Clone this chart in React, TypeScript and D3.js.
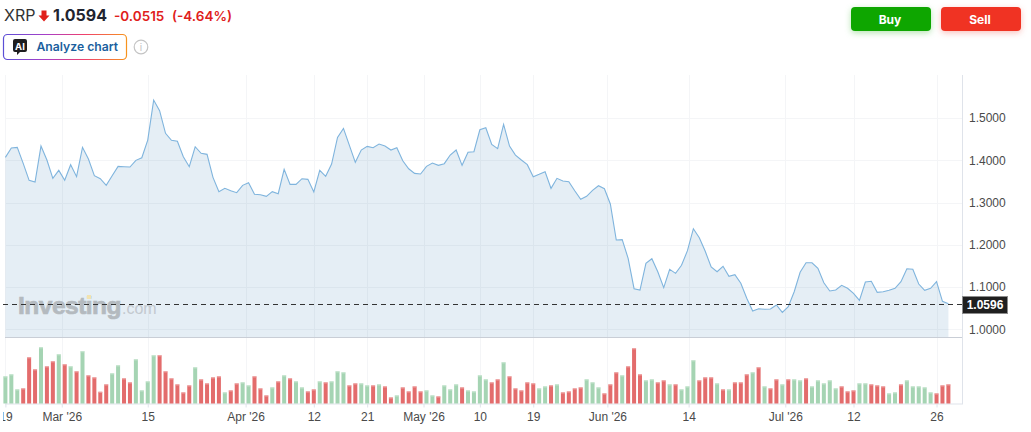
import * as d3 from 'd3';
import { useEffect, useRef } from 'react';

// daily close
const closes = [
  1.4071, 1.4291, 1.4307, 1.3929, 1.3527, 1.3487, 1.4338, 1.4007, 1.3574, 1.3763,
  1.3527, 1.3897, 1.3613, 1.4307, 1.4031, 1.3636, 1.3565, 1.3408, 1.3636, 1.3858,
  1.3849, 1.3841, 1.4, 1.4062, 1.448, 1.5427, 1.5175, 1.4639, 1.4473, 1.445,
  1.4086, 1.3849, 1.4322, 1.4166, 1.4142, 1.3597, 1.3258, 1.3337, 1.3281, 1.3234,
  1.3408, 1.3471, 1.3195, 1.3187, 1.3148, 1.3258, 1.321, 1.3787, 1.3432, 1.3432,
  1.3565, 1.355, 1.325, 1.3763, 1.3621, 1.3912, 1.4544, 1.4757, 1.4355, 1.3953,
  1.4244, 1.4331, 1.4299, 1.4386, 1.4338, 1.4244, 1.4299, 1.3991, 1.3801, 1.3692,
  1.3676, 1.3858, 1.3936, 1.3882, 1.3921, 1.4125, 1.4244, 1.3882, 1.419, 1.4205,
  1.4724, 1.4772, 1.4378, 1.4276, 1.4852, 1.4338, 1.4125, 1.4007, 1.3897, 1.3613,
  1.3668, 1.3731, 1.3337, 1.3574, 1.351, 1.3495, 1.3281, 1.3077, 1.3148, 1.329,
  1.3399, 1.3328, 1.2966, 1.2114, 1.2122, 1.168, 1.0961, 1.093, 1.1562, 1.1671,
  1.1364, 1.0985, 1.142, 1.1325, 1.1515, 1.1861, 1.2381, 1.2168, 1.1846, 1.1475,
  1.1364, 1.1491, 1.1254, 1.1292, 1.1089, 1.0734, 1.0433, 1.0488, 1.0473, 1.0481,
  1.0575, 1.0402, 1.0535, 1.089, 1.1349, 1.1576, 1.1576, 1.1444, 1.1103, 1.0907,
  1.093, 1.1041, 1.097, 1.0852, 1.0686, 1.112, 1.1136, 1.0876, 1.089, 1.0923,
  1.097, 1.1127, 1.1434, 1.142, 1.1072, 1.0923, 1.097, 1.1127, 1.0663, 1.0606,
];

// volume in arbitrary units
const volumes = [
  81, 87, 42, 45, 138, 102, 168, 111, 126, 147, 117, 111, 96, 156, 84, 78, 35, 57, 90, 114,
  75, 63, 132, 39, 66, 144, 144, 96, 75, 57, 33, 54, 108, 72, 60, 78, 81, 33, 39, 60,
  63, 54, 81, 45, 24, 48, 66, 84, 75, 66, 48, 36, 42, 66, 63, 66, 96, 93, 54, 60,
  60, 54, 54, 57, 51, 18, 24, 48, 36, 51, 36, 39, 24, 21, 54, 42, 57, 48, 39, 36,
  84, 72, 63, 72, 123, 81, 45, 39, 63, 60, 45, 51, 54, 57, 33, 36, 45, 48, 72, 63,
  48, 30, 57, 93, 84, 111, 165, 87, 69, 72, 63, 69, 57, 57, 42, 51, 129, 69, 78, 78,
  60, 42, 42, 63, 63, 87, 93, 108, 51, 45, 72, 57, 72, 72, 69, 75, 51, 69, 60, 69,
  45, 51, 36, 39, 60, 60, 57, 54, 51, 30, 33, 57, 69, 51, 51, 48, 33, 30, 54, 57,
];

// G = up bar, R = down bar
const volumeDirs =
  'GGGRRRGRRGRGRGRRRRGGRRGGGGRRRRRRGRRRRGRRGGRRRGRGRGGRRGRGGGRRGGRGRRGRRRRGGRGGGRGG' +
  'GGRRGRRRRRGGRGRRRRGGGRRRGRRRGGRRGRGGGRRRGRGRRRGRGRRGRGGRGGGGGRRRGGRRRGGRGGGGGRRRGGRR';

const priceTicks = [1.0, 1.1, 1.2, 1.3, 1.4, 1.5];
const dateTickIndex = [0, 9.5, 24, 40.5, 52, 61, 70.5, 80, 89, 101.5, 115.2, 131.5, 143, 157];
const dateTickLabels = ['19', "Mar '26", '15', "Apr '26", '12', '21', "May '26", '10', '19', "Jun '26", '14', "Jul '26", '12', '26'];

const lastPrice = 1.0596;

const App = () => {
  const svgRef = useRef<SVGSVGElement | null>(null);

  useEffect(() => {
    if (!svgRef.current) return;
    const svg = d3.select(svgRef.current);
    svg.selectAll('*').remove();

    const plotLeft = 5;
    const plotRight = 962;
    const paneBottom = 337;
    const volBottom = 403.5;
    const x = d3.scaleLinear().domain([0, closes.length - 1]).range([5.4, 948.4]);
    const y = d3.scaleLinear().domain([1, 1.5]).range([329.3, 118.1]);
    const yVol = d3.scaleLinear().domain([0, 168]).range([volBottom, 347.3]);

    const defs = svg.append('defs');
    const grad = defs.append('linearGradient').attr('id', 'aiBorder');
    [['0%', '#5b4fd6'], ['35%', '#a83fc8'], ['65%', '#ef3f6e'], ['100%', '#f7931e']].forEach(([o, c]) => {
      grad.append('stop').attr('offset', o).attr('stop-color', c);
    });
    defs.append('clipPath').attr('id', 'leftClip')
      .append('rect').attr('x', 3).attr('y', 0).attr('width', 1028).attr('height', 432);

    // grid
    const gridColor = '#f4f5f7';
    svg.append('g').selectAll('line').data(priceTicks).join('line')
      .attr('x1', plotLeft).attr('x2', plotRight)
      .attr('y1', d => Math.round(y(d)) + 0.5).attr('y2', d => Math.round(y(d)) + 0.5)
      .attr('stroke', gridColor);
    svg.append('g').selectAll('line').data(dateTickIndex).join('line')
      .attr('x1', d => Math.round(x(d)) + 0.5).attr('x2', d => Math.round(x(d)) + 0.5)
      .attr('y1', 75).attr('y2', volBottom)
      .attr('stroke', gridColor);

    // price area + line
    const area = d3.area<number>()
      .x((_, i) => x(i))
      .y0(paneBottom)
      .y1(d => y(d));
    svg.append('path').datum(closes).attr('d', area).attr('fill', 'rgba(20,100,165,0.11)');
    const line = d3.line<number>().x((_, i) => x(i)).y(d => y(d));
    svg.append('path').datum(closes).attr('d', line)
      .attr('fill', 'none').attr('stroke', '#7fb4dd').attr('stroke-width', 1.1);

    // watermark
    const mark = svg.append('g').style('font-family', '"Liberation Sans", Arial, sans-serif');
    mark.append('text').attr('x', 18).attr('y', 314)
      .style('font-size', '24.5px').style('font-weight', 700).style('letter-spacing', '-0.5px')
      .attr('fill', '#b4babf').attr('stroke', '#b4babf').attr('stroke-width', 0.7).text('Investing');
    mark.append('text').attr('x', 122).attr('y', 314)
      .style('font-size', '16px').attr('fill', '#c3c9cf').text('.com');
    mark.append('rect').attr('x', 87).attr('y', 295).attr('width', 4).attr('height', 4)
      .attr('fill', '#f2e3b0');

    // separators and right edge
    svg.append('line').attr('x1', plotLeft).attr('x2', plotRight)
      .attr('y1', paneBottom + 0.5).attr('y2', paneBottom + 0.5)
      .attr('stroke', '#c9ced6').attr('stroke-width', 1);
    svg.append('line').attr('x1', plotLeft).attr('x2', plotRight)
      .attr('y1', volBottom + 0.5).attr('y2', volBottom + 0.5)
      .attr('stroke', '#dfe3ea');
    svg.append('line').attr('x1', plotRight + 0.5).attr('x2', plotRight + 0.5)
      .attr('y1', 75).attr('y2', volBottom + 1)
      .attr('stroke', '#dfe3ea');

    // volume bars
    const barW = 4;
    const bars = svg.append('g');
    bars.selectAll('rect.vol').data(volumes).join('rect')
      .attr('class', 'vol')
      .attr('x', (_, i) => x(i) - barW / 2)
      .attr('y', d => yVol(d))
      .attr('width', barW)
      .attr('height', d => volBottom - yVol(d))
      .attr('fill', (_, i) => (volumeDirs[i] === 'G' ? '#a5d4b3' : '#e36c6c'));
    bars.selectAll('rect.top').data(volumes).join('rect')
      .attr('class', 'top')
      .attr('x', (_, i) => x(i) - barW / 2)
      .attr('y', d => yVol(d))
      .attr('width', barW)
      .attr('height', 1)
      .attr('fill', (_, i) => (volumeDirs[i] === 'G' ? '#c8e6d1' : '#efa9a9'));

    // last price line
    svg.append('line').attr('x1', 3).attr('x2', plotRight)
      .attr('y1', Math.round(y(lastPrice)) + 0.5).attr('y2', Math.round(y(lastPrice)) + 0.5)
      .attr('stroke', '#333').attr('stroke-dasharray', '5 4');

    // axes
    const axisFont = '"Liberation Sans", Arial, sans-serif';
    const yAxis = svg.append('g')
      .attr('transform', `translate(${plotRight},0)`)
      .call(d3.axisRight(y).tickValues(priceTicks).tickSize(0).tickPadding(7).tickFormat(d => d3.format('.4f')(d as number)));
    yAxis.select('.domain').remove();
    yAxis.selectAll('text').style('font-size', '12px').style('font-family', axisFont).attr('fill', '#4a4a4a');

    const tickLabel = new Map(dateTickIndex.map((d, i) => [d, dateTickLabels[i]]));
    const xAxis = svg.append('g')
      .attr('transform', `translate(0,${volBottom})`)
      .attr('clip-path', 'url(#leftClip)')
      .call(d3.axisBottom(x).tickValues(dateTickIndex).tickSize(4).tickPadding(5).tickFormat(d => tickLabel.get(d as number) || ''));
    xAxis.select('.domain').remove();
    xAxis.selectAll('line').attr('stroke', '#dfe3ea');
    xAxis.selectAll('text').style('font-size', '12px').style('font-family', axisFont).attr('fill', '#4a4a4a');

    // last price tag
    svg.append('rect').attr('x', 962.5).attr('y', 296.5).attr('width', 45).attr('height', 17)
      .attr('fill', '#1f1f1f').attr('stroke', '#8c8c8c');
    svg.append('text').attr('x', 985).attr('y', 309).attr('text-anchor', 'middle')
      .style('font-size', '12px').style('font-weight', 700).style('font-family', axisFont)
      .attr('fill', '#fff').text(d3.format('.4f')(lastPrice));

    // header
    const head = svg.append('g').style('font-family', 'Inter, sans-serif');
    head.append('text').attr('x', 4).attr('y', 21).style('font-size', '16px').attr('fill', '#333').text('XRP');
    head.append('path').attr('d', 'M41.5 10.5h5v5h3l-5.5 6-5.5-6h3z').attr('fill', '#e0201b');
    head.append('text').attr('x', 53).attr('y', 21).style('font-size', '16px').style('font-weight', 700).attr('fill', '#1f2430').text('1.0594');
    head.append('text').attr('x', 114).attr('y', 21).style('font-size', '13.5px').style('font-weight', 600).attr('fill', '#e0201b').text('-0.0515');
    head.append('text').attr('x', 172).attr('y', 21).style('font-size', '13.5px').style('font-weight', 600).attr('fill', '#e0201b').text('(-4.64%)');

    // analyze chart button
    head.append('rect').attr('x', 3.5).attr('y', 34.5).attr('width', 123).attr('height', 25).attr('rx', 4)
      .attr('fill', '#fff').attr('stroke', 'url(#aiBorder)').attr('stroke-width', 1.2);
    head.append('path').attr('d', 'M15 39h10a2 2 0 0 1 2 2v9a2 2 0 0 1-2 2h-5l-3 3v-3h-2a2 2 0 0 1-2-2v-9a2 2 0 0 1 2-2z').attr('fill', '#1d1d1f');
    head.append('text').attr('x', 20).attr('y', 49.5).attr('text-anchor', 'middle').style('font-size', '9.5px').style('font-weight', 700).attr('fill', '#fff').text('AI');
    head.append('text').attr('x', 36.5).attr('y', 51).style('font-size', '12.2px').style('font-weight', 600).attr('fill', '#1b5f9e').text('Analyze chart');
    head.append('circle').attr('cx', 141).attr('cy', 47).attr('r', 6.8).attr('fill', 'none').attr('stroke', '#c4c4c4').attr('stroke-width', 1.2);
    head.append('text').attr('x', 141).attr('y', 51).attr('text-anchor', 'middle').style('font-size', '10px').attr('fill', '#c4c4c4').text('i');

    // buy / sell
    [
      { label: 'Buy', left: 851, fill: '#0ea600', glow: 'rgba(14,166,0,0.3)' },
      { label: 'Sell', left: 941, fill: '#f03323', glow: 'rgba(240,51,35,0.3)' },
    ].forEach(b => {
      head.append('rect').attr('x', b.left).attr('y', 7).attr('width', 80).attr('height', 24).attr('rx', 4)
        .attr('fill', b.fill).style('filter', `drop-shadow(0 2px 3px ${b.glow})`);
      head.append('text').attr('x', b.left + 39).attr('y', 23.5).attr('text-anchor', 'middle')
        .style('font-size', '12px').style('font-weight', 700).attr('fill', '#fff').text(b.label);
    });
  }, []);

  return (
    <svg
      ref={svgRef}
      width={1031}
      height={432}
      style={{ position: 'absolute', left: 0, top: 0, display: 'block', background: '#fff' }}
    />
  );
};

export default App;
